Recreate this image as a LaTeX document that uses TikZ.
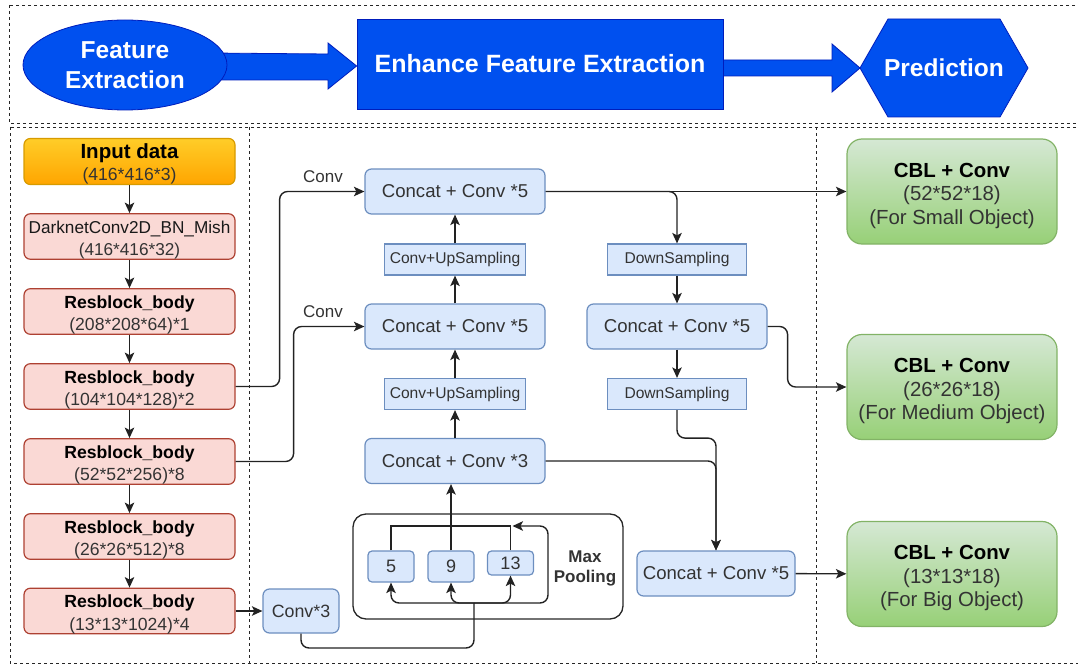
\documentclass[tikz,border=0pt]{standalone}
\usepackage{fontspec}
\setmainfont{Liberation Sans}
\usetikzlibrary{arrows.meta,shapes.geometric,calc,backgrounds}

\definecolor{bannerblue}{HTML}{0050EF}
\definecolor{bannerline}{HTML}{001DBC}
\definecolor{pinkfill}{HTML}{FAD9D5}
\definecolor{pinkline}{HTML}{AE4132}
\definecolor{bluefill}{HTML}{DAE8FC}
\definecolor{blueline}{HTML}{6C8EBF}
\definecolor{greentop}{HTML}{D5E8D4}
\definecolor{greenbot}{HTML}{97D077}
\definecolor{greenline}{HTML}{82B366}
\definecolor{orangetop}{HTML}{FFCD28}
\definecolor{orangebot}{HTML}{FFA500}
\definecolor{orangeline}{HTML}{D79B00}
\definecolor{inkgrey}{HTML}{333333}
\definecolor{wireink}{HTML}{222222}

% bold first line (with a strut that sets its height), then plain lines
\newcommand{\headline}[3]{\rule{0pt}{#1}{\bfseries\color{black}#2}\\#3}

\tikzset{
  frame/.style={draw=black!85, line width=0.9pt, dash pattern=on 3pt off 3pt},
  banner/.style={fill=bannerblue, draw=bannerline, line width=0.8pt, text=white,
    font=\bfseries\fontsize{24.5}{29.5}\selectfont, align=center, inner sep=0pt},
  pinkbox/.style={draw=pinkline, fill=pinkfill, rounded corners=6.5pt, line width=1.2pt,
    minimum width=211pt, minimum height=45pt, inner sep=0pt, align=center,
    text=inkgrey, font=\fontsize{17.6}{22.5}\selectfont},
  inputbox/.style={pinkbox, draw=orangeline, top color=orangetop, bottom color=orangebot},
  bluebox/.style={draw=blueline, fill=bluefill, rounded corners=6.5pt, line width=1.2pt,
    minimum width=180pt, minimum height=45pt, inner sep=0pt, align=center,
    text=inkgrey, font=\fontsize{18.6}{22}\selectfont},
  samplebox/.style={draw=blueline, fill=bluefill, line width=1.2pt,
    minimum width=141pt, minimum height=31pt, inner sep=0pt, align=center,
    text=inkgrey, font=\fontsize{15.6}{18}\selectfont},
  poolbox/.style={draw=blueline, fill=bluefill, rounded corners=4pt, line width=1.2pt,
    minimum width=46pt, minimum height=31pt, inner sep=0pt, align=center,
    text=inkgrey, font=\fontsize{18}{20}\selectfont},
  greenbox/.style={draw=greenline, top color=greentop, bottom color=greenbot,
    rounded corners=15pt, line width=1.2pt, minimum width=210pt, minimum height=105pt,
    inner sep=0pt, align=center, text=inkgrey, font=\fontsize{20.4}{23.5}\selectfont},
  edgelabel/.style={inner sep=0pt, text=inkgrey, font=\fontsize{17}{20}\selectfont},
  wire/.style={draw=wireink, line width=1.4pt},
  arr/.style={wire, -{Stealth[length=10.5pt,width=9.5pt,inset=2.5pt]}},
}

\begin{document}
\begin{tikzpicture}[x=1pt,y=-1pt]
\useasboundingbox (0,0) rectangle (1078,666);

% ---------- dashed frames ----------
\draw[frame] (9,5) rectangle (1084,123);
\draw[frame] (10,127) rectangle (1084,663);
\draw[frame] (249,127) -- (249,663);
\draw[frame] (816,127) -- (816,663);

% ---------- pipeline banner ----------
\node[banner, ellipse, minimum width=204pt, minimum height=90pt] (fe) at (125,65) {Feature\\Extraction};
\node[banner, rectangle, minimum width=366pt, minimum height=90pt, font=\bfseries\fontsize{25}{30}\selectfont] (efe) at (540,64) {Enhance Feature Extraction};
\node[text=white, font=\bfseries\fontsize{24.5}{29}\selectfont, inner sep=0pt] (pred) at (944,68) {Prediction};

\begin{scope}[on background layer]
  % block arrow: feature extraction -> enhancement
  \filldraw[fill=bannerblue, draw=bannerline, line width=0.8pt]
    ($(fe.center)+(85,-12)$) -- (328,54) -- (328,43) -- (efe.west |- 0,66)
    -- (328,89) -- (328,80) -- ($(fe.center)+(85,15)$) -- cycle;
  % block arrow: enhancement -> prediction
  \filldraw[fill=bannerblue, draw=bannerline, line width=0.8pt]
    ($(efe.east)+(0,-4)$) -- (832,60) -- (832,44) -- (860,68)
    -- (832,92) -- (832,76) -- ($(efe.east)+(0,12)$) -- cycle;
  % prediction hexagon
  \filldraw[fill=bannerblue, draw=bannerline, line width=0.8pt]
    (860,68) -- (888,19) -- (1000,19) -- (1028,68) -- (1000,117) -- (888,117) -- cycle;
\end{scope}

% ---------- backbone ----------
\node[inputbox] (inp) at (129.5,161.5) {\headline{20pt}{\fontsize{20.5}{22.5}\selectfont Input data}{(416*416*3)}};
\node[pinkbox, font=\fontsize{17.2}{22.5}\selectfont] (dark) at (129.5,236.5) {\rule{0pt}{19.5pt}{\color{black!90}DarknetConv2D\_BN\_Mish}\\(416*416*32)};
\node[pinkbox] (res1) at (129.5,311.5) {\headline{19.5pt}{Resblock\_body}{(208*208*64)*1}};
\node[pinkbox] (res2) at (129.5,386.5) {\headline{19.5pt}{Resblock\_body}{(104*104*128)*2}};
\node[pinkbox] (res3) at (129.5,461.5) {\headline{19.5pt}{Resblock\_body}{(52*52*256)*8}};
\node[pinkbox] (res4) at (129.5,536.5) {\headline{19.5pt}{Resblock\_body}{(26*26*512)*8}};
\node[pinkbox] (res5) at (129.5,611) {\headline{19.5pt}{Resblock\_body}{(13*13*1024)*4}};

\draw[arr] (inp) -- (dark);
\draw[arr] (dark) -- (res1);
\draw[arr] (res1) -- (res2);
\draw[arr] (res2) -- (res3);
\draw[arr] (res3) -- (res4);
\draw[arr] (res4) -- (res5);

% ---------- neck: SPP and PANet ----------
\node[bluebox, minimum width=76pt, minimum height=44pt, font=\fontsize{17.8}{20}\selectfont] (conv3) at (301,611) {Conv*3};

\node[draw=black!85, line width=1.3pt, rounded corners=13pt, minimum width=270pt, minimum height=105pt] (mpool) at (488,566.5) {};
\node[poolbox] (p5) at (391,566.5) {5};
\node[poolbox] (p9) at (451,566.5) {9};
\node[poolbox, minimum height=24pt] (p13) at (510.5,563) {13};
\node[inner sep=0pt, align=center, text=inkgrey, font=\bfseries\fontsize{17}{20}\selectfont] (mplabel) at (585,568) {Max\\Pooling};

\node[bluebox] (cc3) at (455,461) {Concat + Conv *3};
\node[samplebox] (upb) at (455,394) {Conv+UpSampling};
\node[bluebox] (cc5b) at (455,326.5) {Concat + Conv *5};
\node[samplebox] (upa) at (455,259.5) {Conv+UpSampling};
\node[bluebox] (cc5a) at (455,191.5) {Concat + Conv *5};

\node[samplebox, minimum width=139pt] (dsa) at (677,259.5) {DownSampling};
\node[bluebox] (cc5c) at (677,326.5) {Concat + Conv *5};
\node[samplebox, minimum width=139pt] (dsb) at (677,394) {DownSampling};
\node[bluebox, minimum width=158pt] (cc5d) at (716,573.5) {Concat + Conv *5};

% ---------- heads ----------
\node[greenbox] (cbl1) at (952,191.5) {\headline{23pt}{CBL + Conv}{(52*52*18)\\(For Small Object)}};
\node[greenbox] (cbl2) at (952,387) {\headline{23pt}{CBL + Conv}{(26*26*18)\\(For Medium Object)}};
\node[greenbox] (cbl3) at (952,574) {\headline{23pt}{CBL + Conv}{(13*13*18)\\(For Big Object)}};

% ---------- connectors ----------
% backbone to neck
\draw[arr, rounded corners=8pt] (res2.east) -- ++(44,0) |- (cc5a.west);
\node[edgelabel] (lblA) at (323,177) {Conv};
\draw[arr, rounded corners=8pt] (res3.east) -- ++(58,0) |- (cc5b.west);
\node[edgelabel] (lblB) at (323,312) {Conv};
\draw[arr] (res5) -- (conv3);

% spatial pyramid pooling
\coordinate (busJ) at (474,603);
\coordinate (busT) at (p13.north |- 0,526);
\draw[wire, rounded corners=8pt] (conv3.south) |- (474,648) -- (busJ);
\draw[arr, rounded corners=8pt] (busJ) -| (p5.south);
\draw[arr, rounded corners=8pt] (busJ) -| (p9.south);
\draw[arr, rounded corners=8pt] (busJ) -| (p13.south);
\draw[arr, rounded corners=8pt] (busJ) -- (548,603) -- (548,526) -- ($(busT)+(2,0)$);
\draw[wire] (p5.north) |- (p9.north |- busT);
\draw[wire] (p13.north) |- (p9.north |- busT);
\draw[arr] (p9.north) -- (p9.north |- cc3.south);

% top-down path
\draw[arr] (cc3) -- (upb);
\draw[arr] (upb) -- (cc5b);
\draw[arr] (cc5b) -- (upa);
\draw[arr] (upa) -- (cc5a);

% bottom-up path
\draw[arr] (cc5a) -- (cbl1);
\draw[arr, rounded corners=8pt] (cc5a.east) -| (dsa.north);
\draw[arr] (dsa) -- (cc5c);
\draw[arr] (cc5c) -- (dsb);
\draw[arr, rounded corners=8pt] (cc5c.east) -- ++(20,0) |- (cbl2.west);
\draw[arr, rounded corners=8pt] (dsb.south) -- ++(0,28) -| (cc5d.north);
\draw[arr, rounded corners=8pt] (cc3.east) -| (cc5d.north);
\draw[arr] (cc5d) -- (cbl3);
\end{tikzpicture}
\end{document}
